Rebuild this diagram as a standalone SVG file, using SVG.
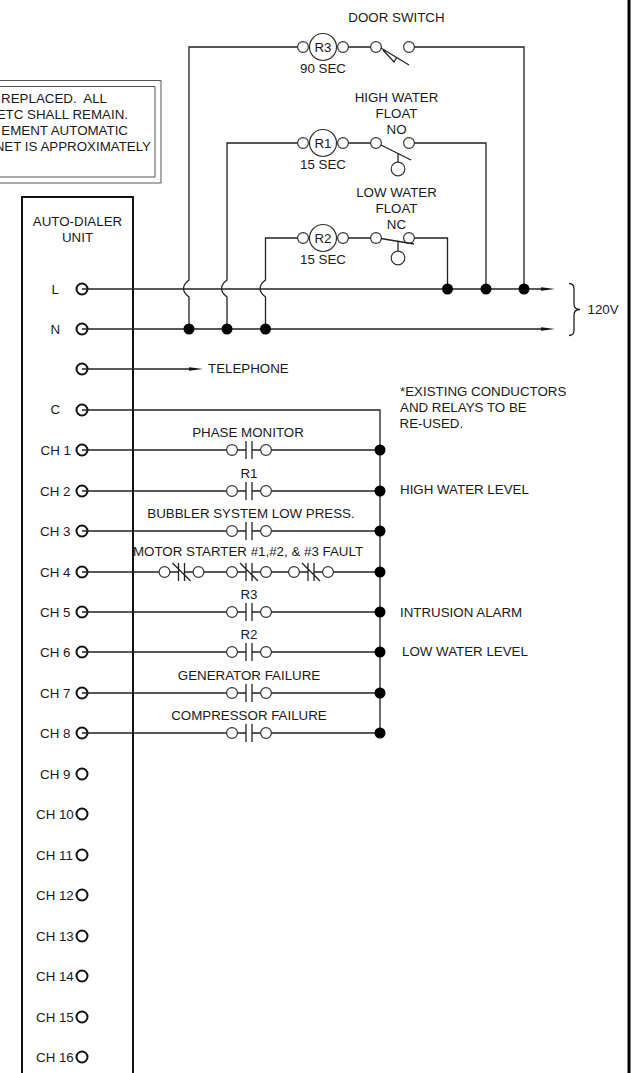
<svg xmlns="http://www.w3.org/2000/svg" width="634" height="1073" viewBox="0 0 634 1073">
<style>
text{font-family:"Liberation Sans",Arial,sans-serif;font-size:13.33px;fill:#1a1a1a;white-space:pre}
.m{text-anchor:middle}
.e{text-anchor:end}
.w{fill:none;stroke:#222;stroke-width:1.3}
.h{fill:none;stroke:#111;stroke-width:2}
.f{fill:none;stroke:#000;stroke-width:3}
.t{fill:#fff;stroke:#111;stroke-width:2}
.c{fill:#fff;stroke:#333;stroke-width:1.2}
.d{fill:#000;stroke:none}
</style>
<defs>
<g id="no"><path class="w" d="M-3 -9V9M3 -9V9M-12 0H-3M3 0H12"/><circle class="c" cx="-17" cy="0" r="5.400"/><circle class="c" cx="17" cy="0" r="5.400"/></g>
<g id="nc"><path class="w" d="M-3 -9V9M3 -9V9M-12 0H-3M3 0H12M-9 -9L9 9"/><circle class="c" cx="-17" cy="0" r="5.400"/><circle class="c" cx="17" cy="0" r="5.400"/></g>
<path id="arr" d="M0 0L-14 -1.800V1.800Z" fill="#111"/>
</defs>
<g id="frame"><path class="f" d="M629 0V1073"/></g>
<g id="note-box">
<path fill="none" stroke="#555" stroke-width="1" d="M0 80.500H161V183H0M0 86.500H155V177H0"/>
<text class="e" x="107" y="103">REPLACED.  ALL</text>
<text class="e" x="128" y="119">ETC SHALL REMAIN.</text>
<text class="e" x="128" y="135">EMENT AUTOMATIC</text>
<text class="e" x="151" y="151">NET IS APPROXIMATELY</text>
</g>
<g id="autodialer">
<path class="h" d="M22 1073V197H133V1073"/>
<text class="m" x="77.500" y="226">AUTO-DIALER</text><text class="m" x="77.500" y="242">UNIT</text>
<text x="51.500" y="294">L</text><text x="50.500" y="334">N</text><text x="50.500" y="414">C</text>
<text x="40.500" y="455">CH 1</text><text x="40" y="496">CH 2</text><text x="40" y="536">CH 3</text><text x="40" y="577">CH 4</text><text x="40" y="617">CH 5</text><text x="40" y="657">CH 6</text><text x="40" y="698">CH 7</text><text x="40" y="738">CH 8</text><text x="40" y="779">CH 9</text><text x="36" y="819">CH 10</text><text x="36" y="860">CH 11</text><text x="36" y="900">CH 12</text><text x="36" y="941">CH 13</text><text x="36" y="981">CH 14</text><text x="36" y="1022">CH 15</text><text x="36" y="1062">CH 16</text>
<circle class="t" cx="82" cy="289" r="5.500"/><circle class="t" cx="82" cy="329" r="5.500"/><circle class="t" cx="82" cy="369" r="5.500"/><circle class="t" cx="82" cy="410" r="5.500"/><circle class="t" cx="82" cy="450" r="5.500"/><circle class="t" cx="82" cy="491" r="5.500"/><circle class="t" cx="82" cy="531" r="5.500"/><circle class="t" cx="82" cy="572" r="5.500"/><circle class="t" cx="82" cy="612" r="5.500"/><circle class="t" cx="82" cy="652" r="5.500"/><circle class="t" cx="82" cy="693" r="5.500"/><circle class="t" cx="82" cy="733" r="5.500"/><circle class="t" cx="82" cy="774" r="5.500"/><circle class="t" cx="82" cy="814" r="5.500"/><circle class="t" cx="82" cy="855" r="5.500"/><circle class="t" cx="82" cy="895" r="5.500"/><circle class="t" cx="82" cy="936" r="5.500"/><circle class="t" cx="82" cy="976" r="5.500"/><circle class="t" cx="82" cy="1017" r="5.500"/><circle class="t" cx="82" cy="1057" r="5.500"/>
</g>
<g id="connectors">
<path class="w" d="M82 289H542"/>
<path class="w" d="M82 329H542"/>
<path class="w" d="M298 47H189V280Q178 288.500 189 297V329M348 47H371M414 47H524V289"/>
<path class="w" d="M298 143H227V280Q216 288.500 227 297V329M348 143H371M414 143H486V289"/>
<path class="w" d="M298 238H265.500V280Q254.500 288.500 265.500 297V329M348 238H371M414 238H447.500V289"/>
<path class="w" d="M82 369H190"/>
<path class="w" d="M82 410H380V733"/>
<path class="w" d="M82 450H227M271 450H380M82 491H227M271 491H380M82 531H227M271 531H380M82 572H159M204 572H227M271 572H289M333 572H380M82 612H227M271 612H380M82 652H227M271 652H380M82 693H227M271 693H380M82 733H227M271 733H380"/>
<use href="#arr" x="555" y="289"/><use href="#arr" x="555" y="329"/><use href="#arr" x="203" y="369"/>
<path class="w" d="M569 283.500Q574 283.500 574 289V304Q574 309.500 580 309.500Q574 309.500 574 315V330Q574 335.500 569 335.500"/>
</g>
<g id="dots">
<circle class="d" cx="189" cy="329" r="5.500"/><circle class="d" cx="227" cy="329" r="5.500"/><circle class="d" cx="265.500" cy="329" r="5.500"/>
<circle class="d" cx="447.500" cy="289" r="5.500"/><circle class="d" cx="486" cy="289" r="5.500"/><circle class="d" cx="524" cy="289" r="5.500"/>
<circle class="d" cx="380" cy="450" r="5.500"/><circle class="d" cx="380" cy="491" r="5.500"/><circle class="d" cx="380" cy="531" r="5.500"/><circle class="d" cx="380" cy="572" r="5.500"/><circle class="d" cx="380" cy="612" r="5.500"/><circle class="d" cx="380" cy="652" r="5.500"/><circle class="d" cx="380" cy="693" r="5.500"/><circle class="d" cx="380" cy="733" r="5.500"/>
</g>
<g id="relay-r3"><circle class="c" cx="303" cy="47" r="5.400"/><circle class="c" cx="323" cy="47" r="13.500"/><circle class="c" cx="343" cy="47" r="5.400"/><text class="m" x="323" y="52">R3</text><text class="m" x="323" y="73">90 SEC</text></g>
<g id="relay-r1"><circle class="c" cx="303" cy="143" r="5.400"/><circle class="c" cx="323" cy="143" r="13.500"/><circle class="c" cx="343" cy="143" r="5.400"/><text class="m" x="323" y="148">R1</text><text class="m" x="323" y="169">15 SEC</text></g>
<g id="relay-r2"><circle class="c" cx="303" cy="238" r="5.400"/><circle class="c" cx="323" cy="238" r="13.500"/><circle class="c" cx="343" cy="238" r="5.400"/><text class="m" x="323" y="243">R2</text><text class="m" x="323" y="264">15 SEC</text></g>
<g id="door-switch"><circle class="c" cx="376" cy="47" r="5.400"/><circle class="c" cx="409" cy="47" r="5.400"/><path class="w" d="M381 48L409 65M383 50L394 62L397 57"/><text class="m" x="396.500" y="22">DOOR SWITCH</text></g>
<g id="high-water"><circle class="c" cx="376" cy="143" r="5.400"/><circle class="c" cx="409" cy="143" r="5.400"/><circle class="c" cx="398" cy="169" r="6.800"/><path class="w" d="M381 145L411 160M398 153V162"/><text class="m" x="396.500" y="102">HIGH WATER</text><text class="m" x="396.500" y="118">FLOAT</text><text class="m" x="396.500" y="134">NO</text></g>
<g id="low-water"><circle class="c" cx="376" cy="238" r="5.400"/><circle class="c" cx="409" cy="238" r="5.400"/><circle class="c" cx="398" cy="258" r="6.800"/><path class="w" d="M381 238.500L414 244M398 241V251"/><text class="m" x="396.500" y="197">LOW WATER</text><text class="m" x="396.500" y="213">FLOAT</text><text class="m" x="396.500" y="229">NC</text></g>
<g id="contacts">
<use href="#no" x="249" y="450"/><use href="#no" x="249" y="491"/><use href="#no" x="249" y="531"/>
<use href="#nc" x="181.500" y="572"/><use href="#nc" x="249" y="572"/><use href="#nc" x="311" y="572"/>
<use href="#no" x="249" y="612"/><use href="#no" x="249" y="652"/><use href="#no" x="249" y="693"/><use href="#no" x="249" y="733"/>
</g>
<g id="labels">
<text class="m" x="248" y="437">PHASE MONITOR</text><text class="m" x="249" y="478">R1</text><text class="m" x="251" y="518">BUBBLER SYSTEM LOW PRESS.</text><text class="m" x="248" y="556">MOTOR STARTER #1,#2, &amp; #3 FAULT</text><text class="m" x="249" y="599">R3</text><text class="m" x="249" y="639">R2</text><text class="m" x="249" y="680">GENERATOR FAILURE</text><text class="m" x="249" y="720">COMPRESSOR FAILURE</text>
<text x="208" y="373">TELEPHONE</text>
<text x="400" y="396">*EXISTING CONDUCTORS</text><text x="400" y="412">AND RELAYS TO BE</text><text x="399.500" y="428">RE-USED.</text>
<text x="400" y="494">HIGH WATER LEVEL</text><text x="400" y="617">INTRUSION ALARM</text><text x="402" y="656">LOW WATER LEVEL</text>
<text x="587.500" y="314">120V</text>
</g>
</svg>
